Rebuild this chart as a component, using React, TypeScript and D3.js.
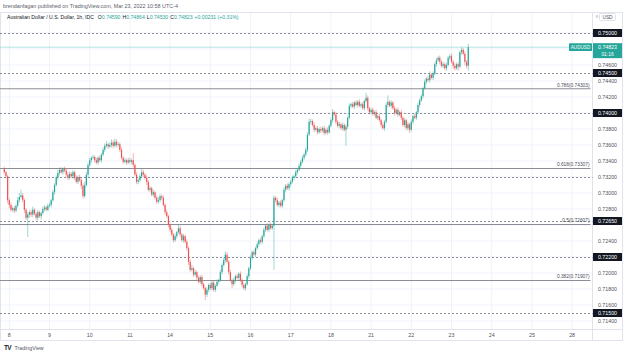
import React, { useMemo } from "react";
import * as d3 from "d3";

// ---------- DATA ----------
const dayLabels = ["8", "9", "10", "11", "14", "15", "16", "17", "18", "21", "22", "23", "24", "25", "28"];
const firstOpen = 0.733;
const closesPre = [0.7326, 0.7321, 0.7291];
const closes08 = [0.7285, 0.7279, 0.7281, 0.7278, 0.7284, 0.7291, 0.7295, 0.7297, 0.7291, 0.7279, 0.7269, 0.7273, 0.7276, 0.7273, 0.7279, 0.7274, 0.7269, 0.7276, 0.7271, 0.7275, 0.728, 0.7282, 0.7279, 0.7284];
const closes09 = [0.7285, 0.7291, 0.7301, 0.731, 0.7319, 0.7325, 0.7329, 0.7326, 0.733, 0.7328, 0.7323, 0.7319, 0.7324, 0.7321, 0.7326, 0.7319, 0.7314, 0.732, 0.7316, 0.7309, 0.7296, 0.731, 0.7323, 0.7335];
const closes10 = [0.7341, 0.7344, 0.7345, 0.7341, 0.7338, 0.7344, 0.7341, 0.7348, 0.7354, 0.7359, 0.7361, 0.7358, 0.736, 0.7363, 0.7359, 0.7364, 0.736, 0.7361, 0.7354, 0.7344, 0.7339, 0.7341, 0.7338, 0.7341];
const closes11 = [0.7339, 0.7341, 0.7335, 0.7323, 0.7314, 0.7316, 0.7321, 0.7326, 0.7323, 0.7319, 0.7314, 0.7304, 0.7306, 0.7298, 0.7301, 0.7294, 0.7289, 0.7291, 0.7296, 0.7294, 0.7285, 0.7276, 0.7271, 0.726];
const closes14 = [0.7254, 0.7248, 0.7241, 0.7246, 0.7251, 0.7256, 0.7248, 0.7241, 0.7246, 0.7239, 0.7231, 0.7214, 0.7204, 0.7206, 0.7198, 0.7201, 0.7194, 0.7189, 0.7195, 0.7186, 0.7181, 0.7173, 0.7179, 0.7185];
const closes15 = [0.7181, 0.7188, 0.7179, 0.7184, 0.7189, 0.7191, 0.7201, 0.721, 0.7216, 0.7223, 0.7214, 0.7201, 0.7191, 0.7186, 0.7191, 0.7196, 0.7194, 0.7199, 0.7191, 0.7185, 0.7181, 0.7186, 0.7196, 0.7206];
const closes16 = [0.7219, 0.7226, 0.7223, 0.7231, 0.7236, 0.7241, 0.7239, 0.7246, 0.7254, 0.7259, 0.7254, 0.726, 0.7256, 0.7259, 0.7294, 0.7291, 0.7285, 0.7288, 0.7284, 0.7291, 0.7304, 0.7309, 0.7306, 0.7311];
const closes17 = [0.7314, 0.7319, 0.7321, 0.7326, 0.7329, 0.7334, 0.7339, 0.7344, 0.7348, 0.7354, 0.7373, 0.7389, 0.739, 0.7385, 0.7379, 0.7381, 0.7376, 0.738, 0.7378, 0.7381, 0.7375, 0.7379, 0.7376, 0.7384];
const closes18 = [0.7391, 0.7401, 0.7398, 0.7389, 0.7384, 0.7386, 0.7381, 0.7385, 0.7379, 0.7383, 0.7394, 0.7409, 0.7411, 0.7408, 0.7413, 0.741, 0.7414, 0.7409, 0.7411, 0.7406, 0.7415, 0.7419, 0.7406, 0.7401];
const closes21 = [0.7404, 0.7399, 0.7401, 0.7394, 0.7396, 0.7391, 0.7385, 0.7381, 0.7389, 0.741, 0.7414, 0.7409, 0.7413, 0.7406, 0.74, 0.7404, 0.7398, 0.7401, 0.7394, 0.7385, 0.7391, 0.7381, 0.7386, 0.7379];
const closes22 = [0.7389, 0.7396, 0.7394, 0.7401, 0.741, 0.7416, 0.7421, 0.7431, 0.7439, 0.7443, 0.7441, 0.7448, 0.7444, 0.7449, 0.7461, 0.7466, 0.7469, 0.7464, 0.7459, 0.7461, 0.7456, 0.746, 0.7469, 0.7471];
const closes23 = [0.7464, 0.7459, 0.7456, 0.7461, 0.7458, 0.7476, 0.7479, 0.7474, 0.7464, 0.7459, 0.74823];

// wick extensions beyond the body, in pips
const wickUp = [
  3, 2, 2,
  2, 3, 2, 3, 2, 4, 5, 7, 3, 2, 2, 3, 2, 3, 4, 2, 3, 3, 2, 2, 3, 3, 2, 3,
  3, 2, 3, 2, 3, 4, 3, 3, 2, 3, 2, 3, 3, 2, 3, 2, 3, 2, 3, 2, 3, 4, 3, 3,
  3, 2, 3, 2, 3, 2, 3, 2, 3, 3, 4, 2, 3, 4, 3, 4, 3, 3, 2, 3, 2, 3, 2, 3,
  3, 2, 9, 2, 3, 2, 3, 4, 3, 2, 3, 2, 3, 2, 3, 2, 3, 4, 3, 2, 3, 2, 3, 2,
  2, 3, 2, 3, 2, 4, 3, 2, 3, 2, 3, 2, 3, 4, 2, 3, 2, 3, 2, 3, 2, 2, 3, 2,
  3, 2, 3, 2, 3, 2, 3, 2, 3, 4, 3, 2, 3, 2, 3, 2, 3, 2, 3, 2, 3, 2, 3, 2,
  3, 2, 3, 2, 3, 2, 3, 2, 3, 2, 3, 2, 3, 2, 3, 2, 3, 2, 3, 2, 3, 2, 3, 2,
  2, 3, 2, 3, 2, 3, 2, 3, 2, 3, 3, 4, 3, 2, 3, 2, 3, 2, 3, 2, 3, 2, 3, 2,
  3, 4, 2, 3, 2, 3, 2, 3, 2, 3, 2, 3, 2, 3, 2, 3, 2, 3, 2, 3, 2, 6, 3, 2,
  2, 3, 2, 3, 2, 3, 2, 3, 2, 3, 8, 2, 3, 2, 3, 2, 3, 2, 3, 2, 3, 2, 3, 2,
  3, 2, 3, 2, 3, 2, 3, 2, 3, 2, 3, 4, 2, 3, 2, 3, 2, 3, 2, 3, 2, 3, 2, 3,
  3, 2, 3, 2, 3, 2, 3, 2, 3, 2, 4,
];
const wickDown = [
  2, 3, 4,
  4, 2, 3, 3, 2, 2, 3, 2, 3, 4, 3, 24, 4, 3, 3, 2, 3, 3, 2, 4, 2, 3, 2, 2,
  2, 3, 2, 3, 2, 3, 3, 2, 3, 2, 3, 3, 2, 2, 3, 3, 2, 3, 2, 4, 3, 2, 2, 3,
  2, 3, 2, 3, 2, 3, 2, 3, 2, 3, 2, 3, 2, 3, 3, 2, 3, 2, 3, 2, 3, 2, 3, 2,
  2, 3, 3, 2, 3, 3, 2, 2, 3, 2, 4, 2, 3, 2, 3, 2, 3, 2, 2, 3, 2, 3, 2, 3,
  3, 2, 3, 2, 3, 2, 3, 2, 3, 2, 3, 4, 3, 2, 3, 2, 3, 2, 3, 3, 2, 7, 3, 3,
  2, 3, 2, 3, 2, 3, 2, 3, 2, 3, 2, 3, 2, 5, 2, 3, 2, 3, 2, 3, 2, 3, 2, 3,
  2, 3, 2, 3, 2, 3, 2, 3, 2, 3, 2, 3, 2, 2, 55, 3, 2, 3, 2, 3, 2, 3, 2, 3,
  3, 2, 3, 2, 3, 2, 3, 2, 3, 2, 3, 2, 3, 2, 3, 2, 3, 2, 3, 2, 3, 2, 3, 2,
  2, 3, 2, 3, 2, 3, 2, 3, 2, 20, 3, 2, 3, 2, 3, 2, 3, 2, 3, 2, 3, 2, 3, 2,
  3, 2, 3, 2, 3, 2, 3, 2, 3, 2, 3, 2, 3, 2, 3, 2, 3, 2, 3, 2, 3, 2, 3, 4,
  2, 3, 2, 3, 2, 3, 2, 3, 2, 3, 2, 3, 2, 3, 2, 3, 2, 3, 2, 3, 2, 3, 2, 3,
  2, 4, 3, 2, 5, 2, 3, 2, 4, 3, 6,
];

const keyLevels = [0.75, 0.745, 0.74, 0.732, 0.7265, 0.722, 0.715];
const boxedLevels = [0.75, 0.745, 0.74, 0.7265, 0.722, 0.715];
const fibRatios = ["0.786", "0.618", "0.5", "0.382"];
const fibPrices = [0.74303, 0.73307, 0.72607, 0.71907];
const lastPrice = 0.74823;
const headerOHLC = [
  ["O", "0.74590"],
  ["H", "0.74864"],
  ["L", "0.74530"],
  ["C", "0.74823"],
];

// ---------- STYLE ----------
const W = 623;
const H = 355;
const FONT = "'Liberation Sans', Arial, sans-serif";
const UP = "#26a69a";
const DOWN = "#ef5350";
const GRID = "#f0f3fa";
const BORDER = "#e0e3eb";
const TXT = "#131722";
const AXT = "#50535e";

export default function App() {
  const plotLeft = 0;
  const plotRight = 592.5;
  const plotTop = 12.5;
  const plotBottom = 329.5;

  const x = d3.scaleLinear().domain([0, 14 * 24]).range([9.3, 572.1]);
  const y = d3.scaleLinear().domain([0.75, 0.715]).range([33, 313]);

  const candles = useMemo(() => {
    const closes = [
      ...closesPre, ...closes08, ...closes09, ...closes10, ...closes11, ...closes14,
      ...closes15, ...closes16, ...closes17, ...closes18, ...closes21, ...closes22, ...closes23,
    ];
    let prev = firstOpen;
    return closes.map((c, i) => {
      const o = prev;
      prev = c;
      const hi = Math.max(o, c) + (wickUp[i] ?? 2) * 0.0001;
      const lo = Math.min(o, c) - (wickDown[i] ?? 2) * 0.0001;
      return { h: i - closesPre.length, o, c, hi, lo };
    });
  }, []);

  const priceTicks = d3.range(357, 376).map((k) => +(k * 0.002).toFixed(3));
  const boxYs = [...boxedLevels.map((p) => y(p)), y(lastPrice) + 3.5];
  const visibleTicks = priceTicks.filter((p) => boxYs.every((by) => Math.abs(y(p) - by) > 6.5));
  const dayTicks = dayLabels.map((d, i) => ({ label: d, x: x(i * 24) }));

  return (
    <svg
      width={W}
      height={H}
      style={{ position: "absolute", left: 0, top: 0, background: "#fff" }}
      fontFamily={FONT}
    >
      <rect x={0} y={0} width={W} height={H} fill="#fff" />
      {/* header */}
      <text x={3} y={7.5} fontSize={5.4} fill="#5d606b">
        brendanfagan published on TradingView.com, Mar 23, 2022 10:58 UTC-4
      </text>

      {/* grid */}
      {dayTicks.map((t) => (
        <line key={"vg" + t.label} x1={t.x} x2={t.x} y1={plotTop} y2={plotBottom} stroke={GRID} strokeWidth={1} />
      ))}
      {priceTicks.map((p) => (
        <line key={"hg" + p} x1={plotLeft} x2={plotRight} y1={y(p)} y2={y(p)} stroke={GRID} strokeWidth={1} />
      ))}

      {/* frame */}
      <rect x={0.5} y={plotTop} width={W - 1} height={340.5 - plotTop} fill="none" stroke={BORDER} />
      <line x1={plotRight} x2={plotRight} y1={plotTop} y2={340.5} stroke={BORDER} />
      <line x1={0} x2={W} y1={plotBottom} y2={plotBottom} stroke={BORDER} />

      {/* symbol line */}
      <text x={7} y={18.5} fontSize={5.15} fill={TXT}>
        <tspan>Australian Dollar / U.S. Dollar, 1h, IDC</tspan>
        {headerOHLC.map(([k, v], i) => (
          <React.Fragment key={k}>
            <tspan dx={i === 0 ? 4 : 2} fill={TXT}>{k}</tspan>
            <tspan fill={UP}>{v}</tspan>
          </React.Fragment>
        ))}
        <tspan dx={2} fill={UP}>+0.00231 (+0.31%)</tspan>
      </text>

      {/* key horizontal levels (dashed) */}
      {keyLevels.map((p) => (
        <line
          key={"kl" + p}
          x1={plotLeft}
          x2={plotRight}
          y1={Math.round(y(p)) + 0.5}
          y2={Math.round(y(p)) + 0.5}
          stroke="#8a8d96"
          strokeWidth={1}
          strokeDasharray="2 2"
        />
      ))}

      {/* fib lines */}
      {fibPrices.map((p, i) => (
        <g key={"fib" + i}>
          <line x1={plotLeft} x2={plotRight - 2} y1={y(p)} y2={y(p)} stroke="#8b8e95" strokeWidth={1.1} />
          <text x={plotRight - 3} y={y(p) - 2} fontSize={4.8} fill="#4a4d57" textAnchor="end">
            {fibRatios[i]}({p.toFixed(5)})
          </text>
        </g>
      ))}

      {/* current price line */}
      <line x1={plotLeft} x2={plotRight} y1={y(lastPrice)} y2={y(lastPrice)} stroke="#9fded7" strokeWidth={0.8} />

      {/* candles */}
      <g>
        {candles.map((d) => {
          const cx = x(d.h);
          const col = d.c >= d.o ? UP : DOWN;
          const top = y(Math.max(d.o, d.c));
          const bot = y(Math.min(d.o, d.c));
          return (
            <g key={d.h}>
              <line x1={cx} x2={cx} y1={y(d.hi)} y2={y(d.lo)} stroke={col} strokeOpacity={0.45} strokeWidth={1} />
              <rect x={cx - 0.6} width={1.2} y={top} height={Math.max(bot - top, 0.8)} fill={col} />
            </g>
          );
        })}
      </g>

      {/* price axis labels */}
      {visibleTicks.map((p) => (
        <text key={"pl" + p} x={607.5} y={y(p) + 1.8} fontSize={5.3} fill={AXT} textAnchor="middle">
          {p.toFixed(5)}
        </text>
      ))}

      {/* boxed levels */}
      {boxedLevels.map((p) => (
        <g key={"bx" + p}>
          <rect x={593} y={y(p) - 4} width={29} height={8} fill={TXT} />
          <text x={607.5} y={y(p) + 1.9} fontSize={5.3} fill="#fff" textAnchor="middle">
            {p.toFixed(5)}
          </text>
        </g>
      ))}

      {/* AUDUSD tag and last price */}
      <rect x={569} y={y(lastPrice) - 3.8} width={23} height={7.6} fill={UP} rx={0.5} />
      <text x={580.5} y={y(lastPrice) + 1.7} fontSize={4.6} fill="#fff" textAnchor="middle">
        AUDUSD
      </text>
      <rect x={593} y={y(lastPrice) - 4} width={29} height={15} fill={UP} />
      <text x={607.5} y={y(lastPrice) + 1.7} fontSize={5.2} fill="#fff" textAnchor="middle">
        {lastPrice.toFixed(5)}
      </text>
      <text x={607.5} y={y(lastPrice) + 8.9} fontSize={4.9} fill="#fff" textAnchor="middle">
        01:16
      </text>

      {/* currency label */}
      <rect x={599.5} y={13.5} width={16} height={7} fill="#fff" stroke={BORDER} rx={1} />
      <text x={607.5} y={18.8} fontSize={4.8} fill={AXT} textAnchor="middle">
        USD
      </text>
      <circle cx={597} cy={16.5} r={1} fill="none" stroke="#9598a1" strokeWidth={0.5} />

      {/* time axis labels */}
      {dayTicks.map((t) => (
        <text key={"tl" + t.label} x={t.x} y={336.5} fontSize={5.3} fill={AXT} textAnchor="middle">
          {t.label}
        </text>
      ))}

      {/* logo */}
      <text x={4} y={350} fontSize={6.5} fontWeight="bold" fill={TXT} letterSpacing={-0.6}>
        TV
      </text>
      <text x={14.5} y={349.8} fontSize={5.3} fill="#50535e">
        TradingView
      </text>
    </svg>
  );
}
